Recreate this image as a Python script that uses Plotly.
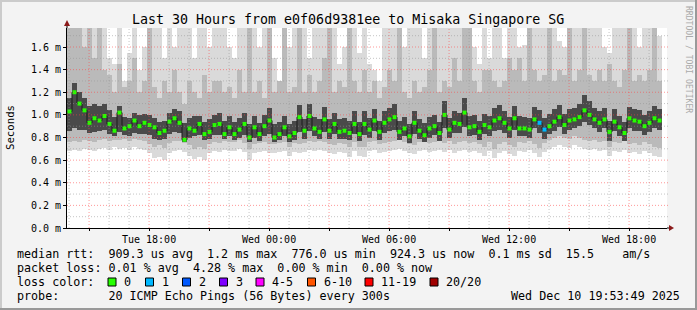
import plotly.graph_objects as go
from datetime import datetime, timedelta

# ---------------- data ----------------
title_text = "Last 30 Hours from e0f06d9381ee to Misaka Singapore SG"
t_start = datetime(2025, 12, 9, 13, 53, 49)
t_end = datetime(2025, 12, 10, 19, 53, 49)
bin_minutes = 15

# median rtt per 15-minute bin (ms)
median_rtt = [
    1.03, 1.20, 1.10, 1.04, 0.93, 0.97, 0.95, 0.99, 0.92, 0.86, 1.02, 0.88, 0.90, 0.95, 0.90,
    0.93, 0.91, 0.89, 0.84, 0.86, 0.94, 0.97, 0.93, 0.78, 0.88, 0.86, 0.92, 0.83, 0.85, 0.91,
    0.92, 0.83, 0.89, 0.83, 0.87, 0.92, 0.80, 0.89, 0.83, 0.90, 0.95, 0.80, 0.83, 0.89, 0.81,
    0.84, 0.98, 0.86, 0.99, 0.88, 0.85, 0.96, 0.86, 0.92, 0.85, 0.86, 0.84, 0.92, 0.83, 0.92,
    0.87, 0.95, 0.85, 0.93, 0.96, 0.98, 0.85, 0.88, 0.81, 0.93, 0.86, 0.82, 0.88, 0.90, 0.84,
    1.00, 0.87, 0.93, 0.92, 1.02, 0.89, 0.90, 0.85, 0.91, 0.89, 0.95, 0.97, 0.93, 0.88, 0.97,
    0.88, 0.88, 0.87, 0.96, 0.93, 0.87, 0.90, 0.94, 0.98, 0.91, 0.95, 0.96, 0.98, 1.04, 1.00,
    0.96, 0.93, 0.96, 0.85, 0.94, 0.89, 0.84, 0.97, 0.95, 0.94, 0.90, 0.93, 0.97, 0.95,
]
# bins whose median was drawn with the "1 lost" colour
loss_one_bins = [94, 95]

# outer smoke: fastest / slowest ping
ping_min = [
    0.68, 0.69, 0.68, 0.70, 0.69, 0.68, 0.70, 0.71, 0.69, 0.72, 0.70, 0.71, 0.69, 0.72, 0.70,
    0.69, 0.66, 0.62, 0.63, 0.60, 0.66, 0.68, 0.69, 0.67, 0.64, 0.61, 0.63, 0.60, 0.66, 0.68,
    0.67, 0.69, 0.68, 0.68, 0.70, 0.67, 0.60, 0.66, 0.67, 0.68, 0.66, 0.66, 0.67, 0.68, 0.64,
    0.67, 0.66, 0.67, 0.69, 0.68, 0.69, 0.68, 0.66, 0.65, 0.67, 0.66, 0.63, 0.68, 0.64, 0.63,
    0.68, 0.69, 0.66, 0.67, 0.68, 0.69, 0.70, 0.68, 0.66, 0.65, 0.68, 0.69, 0.67, 0.68, 0.69,
    0.67, 0.69, 0.66, 0.68, 0.69, 0.67, 0.68, 0.66, 0.64, 0.68, 0.62, 0.66, 0.68, 0.65, 0.64,
    0.68, 0.67, 0.69, 0.66, 0.63, 0.67, 0.70, 0.72, 0.73, 0.72, 0.71, 0.73, 0.72, 0.70, 0.69,
    0.70, 0.68, 0.69, 0.64, 0.68, 0.67, 0.69, 0.66, 0.67, 0.65, 0.68, 0.66, 0.64, 0.63,
]
ping_max = [
    1.77, 1.77, 1.77, 1.77, 1.77, 1.77, 1.77, 1.77, 1.50, 1.45, 1.77, 1.30, 1.55, 1.77, 1.40,
    1.60, 1.77, 1.77, 1.77, 1.50, 1.77, 1.60, 1.77, 1.77, 1.77, 1.50, 1.77, 1.77, 1.60, 1.77,
    1.77, 1.77, 1.60, 1.50, 1.77, 1.77, 1.77, 1.77, 1.60, 1.77, 1.77, 1.50, 1.30, 1.77, 1.60,
    1.77, 1.77, 1.77, 1.50, 1.77, 1.77, 1.77, 1.77, 1.77, 1.45, 1.60, 1.77, 1.77, 1.55, 1.77,
    1.45, 1.40, 1.30, 1.77, 1.77, 1.77, 1.77, 1.60, 1.77, 1.77, 1.77, 1.50, 1.77, 1.77, 1.77,
    1.77, 1.77, 1.77, 1.77, 1.77, 1.77, 1.60, 1.45, 1.77, 1.50, 1.77, 1.77, 1.50, 1.77, 1.77,
    1.60, 1.62, 1.77, 1.77, 1.77, 1.77, 1.77, 1.77, 1.65, 1.60, 1.77, 1.77, 1.77, 1.77, 1.77,
    1.77, 1.77, 1.60, 1.55, 1.77, 1.77, 1.77, 1.77, 1.77, 1.60, 1.77, 1.77, 1.77, 1.70,
]
# middle smoke band
mid_lo = [
    0.76, 0.77, 0.76, 0.78, 0.77, 0.76, 0.78, 0.79, 0.77, 0.78, 0.78, 0.79, 0.77, 0.79, 0.78,
    0.77, 0.74, 0.72, 0.73, 0.71, 0.75, 0.77, 0.77, 0.75, 0.73, 0.70, 0.72, 0.70, 0.74, 0.76,
    0.75, 0.77, 0.76, 0.76, 0.78, 0.75, 0.70, 0.74, 0.75, 0.76, 0.74, 0.74, 0.75, 0.76, 0.72,
    0.75, 0.74, 0.75, 0.77, 0.76, 0.77, 0.76, 0.74, 0.73, 0.75, 0.74, 0.72, 0.76, 0.72, 0.72,
    0.76, 0.77, 0.74, 0.75, 0.76, 0.77, 0.78, 0.76, 0.74, 0.73, 0.76, 0.77, 0.75, 0.76, 0.77,
    0.75, 0.77, 0.74, 0.76, 0.77, 0.75, 0.76, 0.74, 0.72, 0.76, 0.70, 0.74, 0.76, 0.73, 0.72,
    0.76, 0.75, 0.77, 0.74, 0.71, 0.75, 0.78, 0.80, 0.81, 0.80, 0.79, 0.81, 0.80, 0.78, 0.77,
    0.78, 0.76, 0.77, 0.72, 0.76, 0.75, 0.77, 0.74, 0.75, 0.73, 0.76, 0.74, 0.72, 0.71,
]
mid_hi = [
    1.77, 1.77, 1.77, 1.60, 1.77, 1.50, 1.77, 1.40, 1.35, 1.20, 1.45, 1.25, 1.30, 1.50, 1.20,
    1.30, 1.77, 1.25, 1.15, 1.30, 1.20, 1.40, 1.20, 1.10, 1.30, 1.20, 1.15, 1.35, 1.20, 1.30,
    1.30, 1.20, 1.25, 1.15, 1.40, 1.20, 1.77, 1.20, 1.30, 1.15, 1.77, 1.20, 1.30, 1.77, 1.20,
    1.25, 1.77, 1.20, 1.35, 1.20, 1.30, 1.50, 1.77, 1.20, 1.30, 1.25, 1.77, 1.30, 1.20, 1.40,
    1.20, 1.30, 1.15, 1.25, 1.40, 1.30, 1.77, 1.20, 1.15, 1.30, 1.20, 1.25, 1.40, 1.77, 1.20,
    1.30, 1.25, 1.50, 1.30, 1.77, 1.77, 1.30, 1.20, 1.40, 1.40, 1.30, 1.25, 1.30, 1.50, 1.40,
    1.50, 1.30, 1.77, 1.40, 1.30, 1.35, 1.77, 1.30, 1.40, 1.35, 1.77, 1.30, 1.40, 1.77, 1.35,
    1.30, 1.40, 1.30, 1.45, 1.30, 1.25, 1.40, 1.77, 1.30, 1.35, 1.30, 1.40, 1.77, 1.30,
]
# dark core band around the median
core_lo = [
    0.86, 0.88, 0.87, 0.87, 0.84, 0.85, 0.86, 0.87, 0.83, 0.81, 0.85, 0.82, 0.81, 0.84, 0.83,
    0.83, 0.82, 0.79, 0.78, 0.79, 0.83, 0.85, 0.84, 0.76, 0.80, 0.81, 0.82, 0.78, 0.79, 0.82,
    0.82, 0.79, 0.81, 0.78, 0.80, 0.82, 0.76, 0.80, 0.77, 0.81, 0.83, 0.76, 0.78, 0.81, 0.76,
    0.78, 0.85, 0.79, 0.86, 0.81, 0.79, 0.85, 0.79, 0.83, 0.79, 0.79, 0.78, 0.83, 0.77, 0.82,
    0.80, 0.86, 0.78, 0.84, 0.86, 0.87, 0.78, 0.81, 0.75, 0.83, 0.79, 0.76, 0.80, 0.82, 0.77,
    0.88, 0.80, 0.84, 0.84, 0.89, 0.81, 0.82, 0.78, 0.83, 0.81, 0.86, 0.87, 0.84, 0.80, 0.87,
    0.81, 0.81, 0.80, 0.88, 0.84, 0.79, 0.83, 0.86, 0.89, 0.83, 0.87, 0.88, 0.90, 0.94, 0.91,
    0.88, 0.85, 0.88, 0.77, 0.86, 0.81, 0.77, 0.88, 0.86, 0.86, 0.82, 0.85, 0.88, 0.87,
]
core_hi = [
    1.15, 1.28, 1.20, 1.15, 1.08, 1.10, 1.08, 1.10, 1.04, 0.98, 1.08, 0.98, 0.97, 1.02, 1.00,
    1.01, 1.00, 0.97, 0.94, 0.95, 1.02, 1.05, 1.03, 0.93, 0.97, 0.99, 0.99, 0.94, 0.96, 1.00,
    1.02, 0.95, 0.99, 0.94, 0.97, 1.02, 0.92, 0.99, 0.93, 1.00, 1.06, 0.92, 0.94, 0.99, 0.92,
    0.95, 1.09, 0.96, 1.10, 0.98, 0.96, 1.07, 0.96, 1.02, 0.96, 0.97, 0.95, 1.03, 0.94, 1.03,
    0.97, 1.05, 0.95, 1.03, 1.06, 1.10, 0.95, 0.98, 0.92, 1.03, 0.96, 0.93, 0.98, 1.00, 0.94,
    1.12, 0.97, 1.03, 1.02, 1.15, 0.99, 1.00, 0.95, 1.01, 0.99, 1.06, 1.09, 1.03, 0.98, 1.08,
    0.99, 0.98, 0.97, 1.07, 1.04, 0.97, 1.01, 1.05, 1.09, 1.01, 1.05, 1.06, 1.10, 1.18, 1.12,
    1.06, 1.03, 1.06, 0.95, 1.05, 0.99, 0.94, 1.07, 1.05, 1.04, 1.00, 1.03, 1.08, 1.05,
]

y_tick_values = [0.0, 0.2, 0.4, 0.6, 0.8, 1.0, 1.2, 1.4, 1.6]
y_tick_labels = ["0.0 m", "0.2 m", "0.4 m", "0.6 m", "0.8 m", "1.0 m", "1.2 m", "1.4 m", "1.6 m"]
x_label_times = [datetime(2025, 12, 9, 18), datetime(2025, 12, 10, 0), datetime(2025, 12, 10, 6),
                 datetime(2025, 12, 10, 12), datetime(2025, 12, 10, 18)]
x_label_texts = ["Tue 18:00", "Wed 00:00", "Wed 06:00", "Wed 12:00", "Wed 18:00"]

legend_rows = [
    "median rtt:  909.3 us avg  1.2 ms max  776.0 us min  924.3 us now  0.1 ms sd  15.5    am/s",
    "packet loss: 0.01 % avg  4.28 % max  0.00 % min  0.00 % now",
    "loss color:",
    "probe:       20 ICMP Echo Pings (56 Bytes) every 300s",
]
loss_labels = ["0", "1", "2", "3", "4-5", "6-10", "11-19", "20/20"]
loss_colors = ["#26ff00", "#00b8ff", "#0059ff", "#7e00ff", "#ff00ff", "#ff5500", "#ff0000", "#a00000"]
date_text = "Wed Dec 10 19:53:49 2025"
watermark = "RRDTOOL / TOBI OETIKER"
y_max = 1.768

# ---------------- geometry helpers ----------------
W, H = 697, 310
L, R, T, B = 67, 667, 28, 228
PW, PH = R - L, B - T


def px_x(px):
    return (px - L) / PW


def px_y(py):
    return (B - py) / PH


FONT = "DejaVu Sans Mono"
NB = "\u00a0"

n = len(median_rtt)
centers = [t_start + timedelta(minutes=bin_minutes * (i + 0.5)) for i in range(n)]
bin_ms = bin_minutes * 60 * 1000

fig = go.Figure()


def band(lo, hi, color):
    fig.add_trace(go.Bar(
        x=centers, base=lo, y=[h - l for l, h in zip(lo, hi)], width=bin_ms,
        marker=dict(color=color, line=dict(width=0)), hoverinfo="skip", showlegend=False))


band(ping_min, ping_max, "#dadada")
band(mid_lo, mid_hi, "#bababa")
band(core_lo, core_hi, "#4a4a4a")

fig.add_trace(go.Scatter(
    x=centers, y=median_rtt, mode="lines", line=dict(color="#1a1a1a", width=1, shape="hvh"),
    hoverinfo="skip", showlegend=False))
marker_cols = [loss_colors[1] if i in loss_one_bins else loss_colors[0] for i in range(n)]
fig.add_trace(go.Scatter(
    x=centers, y=median_rtt, mode="markers",
    marker=dict(symbol="square", size=4, color=marker_cols, line=dict(width=0)),
    hoverinfo="skip", showlegend=False))

shapes = []
# vertical grid: every hour, major (red) every 3 hours
h = datetime(2025, 12, 9, 14)
while h < t_end:
    major = h.hour % 3 == 0
    shapes.append(dict(type="line", xref="x", yref="paper", x0=h, x1=h, y0=0, y1=1,
                       layer="above",
                       line=dict(color="rgba(255,70,70,0.55)" if major else "rgba(150,150,150,0.55)",
                                 width=1, dash="1px,2px")))
    h += timedelta(hours=1)
# horizontal grid every 0.1, major every 0.2
for k in range(1, 18):
    v = k / 10
    major = k % 2 == 0
    shapes.append(dict(type="line", xref="paper", yref="y", x0=0, x1=px_x(668), y0=v, y1=v,
                       layer="above",
                       line=dict(color="rgba(255,70,70,0.55)" if major else "rgba(150,150,150,0.55)",
                                 width=1, dash="1px,2px")))
# axis extensions and arrows
shapes.append(dict(type="line", xref="paper", yref="paper", x0=1, x1=px_x(670), y0=0, y1=0,
                   line=dict(color="#000", width=1)))
shapes.append(dict(type="line", xref="paper", yref="paper", x0=0, x1=0, y0=1, y1=px_y(24),
                   line=dict(color="#000", width=1)))
shapes.append(dict(type="path", xref="paper", yref="paper",
                   path=f"M {px_x(669)} {px_y(225)} L {px_x(674)} {px_y(228)} L {px_x(669)} {px_y(231)} Z",
                   fillcolor="#8b1a1a", line=dict(width=0)))
shapes.append(dict(type="path", xref="paper", yref="paper",
                   path=f"M {px_x(64)} {px_y(26)} L {px_x(67)} {px_y(20)} L {px_x(70)} {px_y(26)} Z",
                   fillcolor="#8b1a1a", line=dict(width=0)))
# frame shading
shapes.append(dict(type="rect", xref="paper", yref="paper", x0=px_x(0), x1=px_x(697), y0=px_y(0), y1=px_y(2),
                   fillcolor="#cbcbcb", line=dict(width=0), layer="below"))
shapes.append(dict(type="rect", xref="paper", yref="paper", x0=px_x(0), x1=px_x(2), y0=px_y(0), y1=px_y(310),
                   fillcolor="#cbcbcb", line=dict(width=0), layer="below"))
shapes.append(dict(type="rect", xref="paper", yref="paper", x0=px_x(0), x1=px_x(697), y0=px_y(308), y1=px_y(310),
                   fillcolor="#999999", line=dict(width=0), layer="below"))
shapes.append(dict(type="rect", xref="paper", yref="paper", x0=px_x(695), x1=px_x(697), y0=px_y(0), y1=px_y(310),
                   fillcolor="#999999", line=dict(width=0), layer="below"))

# legend boxes
box_px = [108, 145.5, 182.5, 219.5, 256, 307.5, 365, 430]
annotations = []
for bx, lab, col in zip(box_px, loss_labels, loss_colors):
    shapes.append(dict(type="rect", xref="paper", yref="paper",
                       x0=px_x(bx), x1=px_x(bx + 8), y0=px_y(278), y1=px_y(286),
                       fillcolor=col, line=dict(color="#000", width=1)))
    annotations.append(dict(text=lab, xref="paper", yref="paper", x=px_x(bx + 14), y=px_y(282.3),
                            xanchor="left", yanchor="middle", showarrow=False,
                            font=dict(family=FONT, size=11.7, color="#000")))

row_y = [254.3, 268.3, 282.3, 296.3]
for txt, ry in zip(legend_rows, row_y):
    annotations.append(dict(text=txt.replace(" ", NB), xref="paper", yref="paper", x=px_x(15), y=px_y(ry),
                            xanchor="left", yanchor="middle", showarrow=False,
                            font=dict(family=FONT, size=11.7, color="#000")))
annotations.append(dict(text=date_text.replace(" ", NB), xref="paper", yref="paper", x=px_x(682), y=px_y(296.3),
                        xanchor="right", yanchor="middle", showarrow=False,
                        font=dict(family=FONT, size=11.7, color="#000")))
annotations.append(dict(text=title_text, xref="paper", yref="paper", x=px_x(347.5), y=px_y(19),
                        xanchor="center", yanchor="middle", showarrow=False,
                        font=dict(family=FONT, size=13.3, color="#000")))
annotations.append(dict(text="Seconds", xref="paper", yref="paper", x=px_x(10), y=px_y(128),
                        xanchor="center", yanchor="middle", showarrow=False, textangle=-90,
                        font=dict(family=FONT, size=10.7, color="#000")))
annotations.append(dict(text=watermark.replace(" ", NB), xref="paper", yref="paper", x=px_x(689), y=px_y(59),
                        xanchor="center", yanchor="middle", showarrow=False, textangle=90,
                        font=dict(family=FONT, size=8.1, color="#aaaaaa")))

# x ticks every 3 hours, labels every 6
tick_vals, tick_txt = [], []
h = datetime(2025, 12, 9, 15)
while h < t_end:
    tick_vals.append(h)
    tick_txt.append(x_label_texts[x_label_times.index(h)] if h in x_label_times else "")
    h += timedelta(hours=3)

fig.update_layout(
    width=W, height=H, margin=dict(l=L, r=W - R, t=T, b=H - B),
    paper_bgcolor="#f3f3f3", plot_bgcolor="#ffffff",
    barmode="overlay", bargap=0, showlegend=False,
    font=dict(family=FONT, size=10, color="#000"),
    shapes=shapes, annotations=annotations,
    xaxis=dict(type="date", range=[t_start, t_end], showgrid=False, zeroline=False,
               showline=True, linecolor="#000", linewidth=1,
               tickmode="array", tickvals=tick_vals, ticktext=tick_txt,
               ticks="outside", ticklen=2, tickcolor="#000",
               tickfont=dict(family=FONT, size=10, color="#000")),
    yaxis=dict(range=[0, y_max], showgrid=False, zeroline=False,
               showline=True, linecolor="#000", linewidth=1,
               tickmode="array", tickvals=y_tick_values, ticktext=[t.replace(" ", NB) for t in y_tick_labels],
               ticks="outside", ticklen=3, tickcolor="#000",
               tickfont=dict(family=FONT, size=10, color="#000")),
)

fig.write_html("out.html")
